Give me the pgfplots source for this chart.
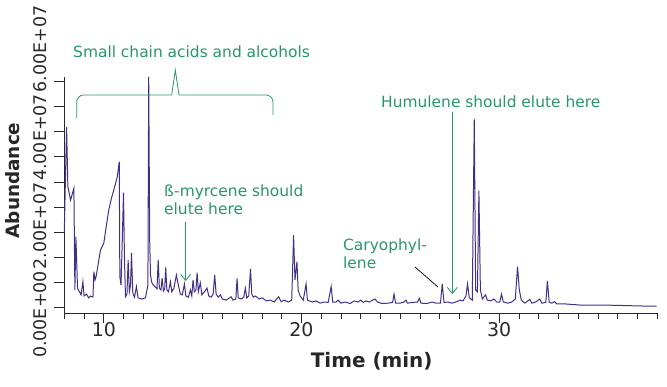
\documentclass[border=0pt]{standalone}
\usepackage{fontspec}
\setmainfont{DejaVu Sans}
\usepackage{pgfplots}
\pgfplotsset{compat=1.18}
\usetikzlibrary{arrows.meta}
\definecolor{trace}{RGB}{66,46,136}
\definecolor{anno}{RGB}{40,150,105}
\definecolor{axcol}{RGB}{40,40,40}
\newcommand{\annofont}{\fontsize{15.5}{18}\selectfont}
\begin{document}
\begin{tikzpicture}
\useasboundingbox (-64.3bp,-74bp) rectangle (602.7bp,313bp);
\begin{axis}[
  at={(0,0)}, anchor=south west,
  scale only axis, width=593bp, height=236.3bp,
  xmin=8, xmax=38, ymin=-0.152, ymax=6.133,
  axis x line*=bottom, axis y line*=left,
  axis line style={axcol, line width=0.9pt},
  every tick/.style={axcol, line width=0.8pt},
  tick align=outside,
  major tick length=10bp, minor tick length=6bp,
  xtick={10,20,30}, xticklabels={10,20,30},
  minor xtick={8,9,...,38},
  ytick={0,0.66667,1.33333,2,2.66667,3.33333,4,4.66667,5.33333,6},
  yticklabels={},
  /pgf/number format/assume math mode=true,
  xticklabel style={font=\fontsize{19}{22}\selectfont, text=axcol, anchor=base, yshift=-13bp},
  xlabel={\textbf{Time (min)}},
  xlabel style={at={(axis description cs:0.5184,0)}, anchor=base, yshift=-54.7bp, font=\fontsize{20}{24}\selectfont, text=black!85},
  ylabel={\textbf{Abundance}},
  ylabel style={at={(axis description cs:-0.07639,0.5607)}, anchor=base, font=\fontsize{18.5}{22}\selectfont, text=black!85},
  clip=false,
]
\addplot[trace, line width=1pt] table {
8.0 2.01
8.116 4.80
8.18 3.21
8.318 2.85
8.485 3.17
8.535 0.46
8.586 1.88
8.67 0.51
8.77 0.41
8.85 0.33
8.94 0.68
9.0 0.30
9.126 0.35
9.23 0.25
9.33 0.30
9.45 0.27
9.495 0.95
9.556 0.73
9.606 0.81
9.73 1.20
9.83 1.52
10.0 1.71
10.11 2.11
10.25 2.59
10.39 2.91
10.505 3.12
10.68 3.47
10.78 3.87
10.81 0.81
10.87 0.59
10.92 1.52
10.995 3.05
11.045 1.26
11.096 0.28
11.17 0.35
11.23 1.26
11.29 0.41
11.35 0.59
11.40 1.45
11.465 0.38
11.55 0.27
11.65 0.55
11.73 0.25
11.90 0.22
12.105 0.25
12.23 0.59
12.27 6.13
12.32 1.79
12.36 0.86
12.43 0.65
12.51 0.59
12.61 0.54
12.69 0.49
12.75 1.26
12.81 0.51
12.89 0.46
12.95 0.78
13.015 0.43
13.08 0.49
13.13 1.06
13.19 0.46
13.27 0.41
13.37 0.68
13.44 0.41
13.545 0.51
13.67 0.86
13.77 0.59
13.87 0.35
13.97 0.33
14.076 0.62
14.15 0.30
14.28 0.27
14.38 0.46
14.45 0.30
14.515 0.73
14.58 0.41
14.66 0.46
14.72 0.92
14.78 0.41
14.88 0.65
14.96 0.33
15.085 0.41
15.22 0.51
15.31 0.30
15.43 0.27
15.53 0.35
15.61 0.86
15.68 0.35
15.79 0.27
15.89 0.33
15.995 0.22
16.2 0.19
16.35 0.25
16.44 0.28
16.53 0.19
16.68 0.22
16.74 0.77
16.80 0.25
16.95 0.22
17.08 0.27
17.16 0.51
17.23 0.25
17.33 0.30
17.42 1.02
17.485 0.35
17.56 0.27
17.66 0.30
17.75 0.27
17.86 0.22
18.015 0.25
18.22 0.17
18.42 0.19
18.62 0.14
18.84 0.28
18.97 0.15
19.13 0.19
19.33 0.14
19.505 0.19
19.6 1.92
19.67 0.73
19.77 1.21
19.83 0.46
19.93 0.30
20.09 0.19
20.23 0.62
20.30 0.19
20.54 0.14
20.74 0.17
20.94 0.11
21.15 0.14
21.35 0.13
21.50 0.55
21.58 0.14
21.75 0.14
21.85 0.19
22.0 0.11
22.21 0.14
22.46 0.10
22.66 0.17
22.86 0.14
23.0 0.19
23.12 0.13
23.27 0.17
23.42 0.14
23.57 0.18
23.72 0.22
23.85 0.14
24.08 0.10
24.38 0.11
24.61 0.13
24.68 0.35
24.76 0.11
24.985 0.11
25.19 0.14
25.29 0.19
25.36 0.11
25.64 0.13
25.87 0.14
25.96 0.24
26.045 0.11
26.35 0.10
26.60 0.14
26.80 0.11
27.03 0.11
27.12 0.62
27.21 0.13
27.41 0.14
27.61 0.11
27.81 0.14
28.015 0.19
28.17 0.17
28.32 0.30
28.40 0.62
28.49 0.25
28.64 0.19
28.74 5.00
28.81 0.46
28.90 0.41
28.975 3.10
29.05 0.46
29.15 0.22
29.31 0.33
29.40 0.19
29.58 0.17
29.73 0.22
29.88 0.14
30.03 0.14
30.12 0.35
30.21 0.14
30.44 0.11
30.64 0.14
30.815 0.22
30.93 1.08
31.02 0.46
31.12 0.19
31.30 0.11
31.45 0.17
31.55 0.21
31.65 0.11
31.85 0.14
32.055 0.22
32.16 0.11
32.36 0.13
32.44 0.70
32.53 0.14
32.66 0.11
32.81 0.15
32.91 0.09
33.32 0.09
34.08 0.06
35.08 0.06
36.10 0.05
37.1 0.035
37.96 0.03
};
\end{axis}
% tick labels of the abundance axis, as set in the reference
\begin{axis}[
  at={(-17.3bp,-27bp)}, anchor=south west,
  scale only axis, width=5bp, height=320bp,
  xmin=0, xmax=1, ymin=-0.576, ymax=6.655,
  axis line style={draw=none},
  xtick=\empty,
  ytick={0,2,4,6},
  yticklabels={0.00E+00,2.00E+07,4.00E+07,6.00E+07},
  major tick length=0pt, tick style={draw=none},
  yticklabel style={rotate=90, anchor=south, inner sep=0pt, font=\fontsize{17.5}{20}\selectfont, text=axcol},
]
\end{axis}
\begin{scope}[x=1bp, y=-1bp, shift={(-64.3bp,313bp)}]
  \node[anchor=base west, inner sep=0pt, text=anno, font=\annofont] at (73,57.3) {Small chain acids and alcohols};
  \draw[anno, line width=0.8pt, rounded corners=7bp] (76.7,118) -- (76.7,95) -- (171.7,95);
  \draw[anno, line width=0.8pt] (171.7,95) -- (175.3,70) -- (179,95);
  \draw[anno, line width=0.8pt, rounded corners=7bp] (179,95) -- (273,95) -- (273,115);
  \node[anchor=base west, inner sep=0pt, text=anno, font=\annofont] at (164,196.7) {ß-myrcene should};
  \node[anchor=base west, inner sep=0pt, text=anno, font=\annofont] at (164,215) {elute here};
  \draw[anno, line width=0.8pt, -{Straight Barb[length=6bp,width=10bp]}] (185.7,221.7) -- (185.7,281);
  \node[anchor=base west, inner sep=0pt, text=anno, font=\annofont] at (343,250.5) {Caryophyl-};
  \node[anchor=base west, inner sep=0pt, text=anno, font=\annofont] at (343,268.8) {lene};
  \draw[black, line width=0.7pt] (415,267) -- (438,287);
  \node[anchor=base west, inner sep=0pt, text=anno, font=\annofont] at (381,107.3) {Humulene should elute here};
  \draw[anno, line width=0.8pt, -{Straight Barb[length=6bp,width=10bp]}] (452.3,111.7) -- (452.3,294);
\end{scope}
\end{tikzpicture}
\end{document}
